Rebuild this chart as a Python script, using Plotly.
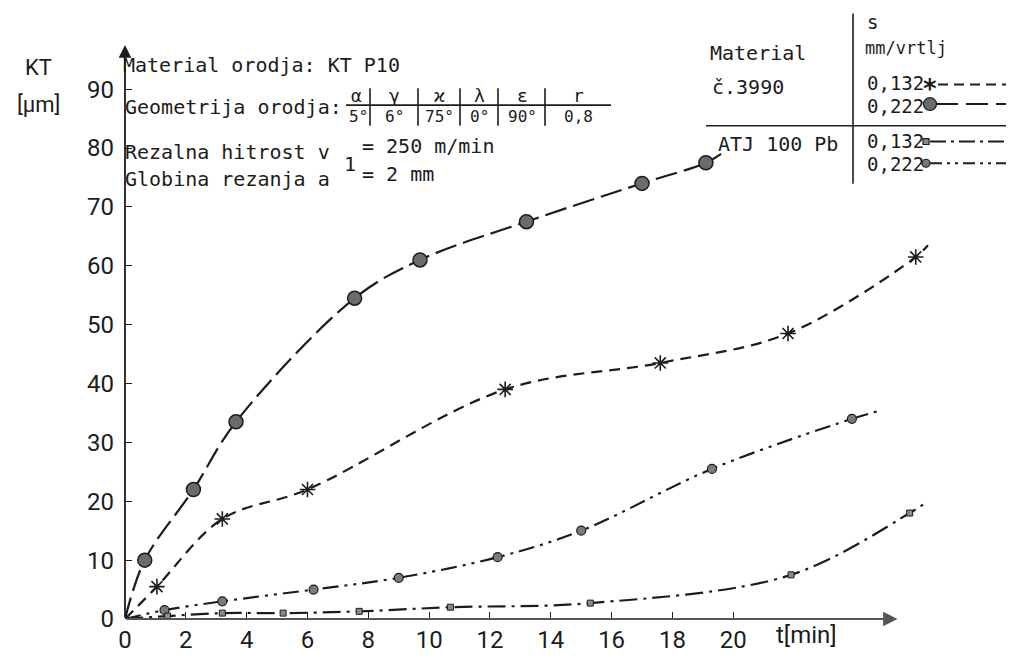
import plotly.graph_objects as go

# Verschleiss KT [um] ueber Zeit t [min], Werte aus dem Diagramm abgelesen
# č.3990, s = 0,222 mm/vrtlj (grosse Kreise)
t_c222 = [0.65, 2.25, 3.65, 7.55, 9.7, 13.2, 17.0, 19.1]
kt_c222 = [10, 22, 33.5, 54.5, 61, 67.5, 74, 77.5]
# č.3990, s = 0,132 mm/vrtlj (Sterne)
t_c132 = [1.05, 3.2, 6.0, 12.5, 17.6, 21.8, 26.0]
kt_c132 = [5.5, 17, 22, 39, 43.5, 48.5, 61.5]
# ATJ 100 Pb, s = 0,222 mm/vrtlj (kleine Kreise)
t_a222 = [1.3, 3.2, 6.2, 9.0, 12.25, 15.0, 19.3, 23.9]
kt_a222 = [1.5, 3, 5, 7, 10.5, 15, 25.5, 34]
# ATJ 100 Pb, s = 0,132 mm/vrtlj (Quadrate)
t_a132 = [1.4, 3.2, 5.2, 7.7, 10.7, 15.3, 21.9, 25.8]
kt_a132 = [0.5, 1, 1, 1.3, 2, 2.7, 7.5, 18]
# wo die Kurven enden
end_t = [19.6, 26.4, 24.9, 26.4]
end_kt = [79, 63.5, 35.5, 20]

x_ticks = [0, 2, 4, 6, 8, 10, 12, 14, 16, 18, 20]
y_ticks = [0, 10, 20, 30, 40, 50, 60, 70, 80, 90]

W, H = 1014, 658
L, R, T, B = 117, 88, 40, 38

def X(px):
    return (px - L) / (W - L - R)

def Y(py):
    return (H - B - py) / (H - T - B)

INK = "#1c1c1c"
MONO = "DejaVu Sans Mono, Liberation Mono, monospace"
NARROW = "Roboto, Liberation Sans, sans-serif"

series = [
    (t_c222, kt_c222, end_t[0], end_kt[0], "22px,7px",
     dict(symbol="circle", size=14, color="#6b6b6b", line=dict(color=INK, width=1.5))),
    (t_c132, kt_c132, end_t[1], end_kt[1], "11px,7px",
     dict(symbol="asterisk-open", size=13, color=INK, line=dict(color=INK, width=1.6))),
    (t_a222, kt_a222, end_t[2], end_kt[2], "16px,6px,3px,6px,3px,6px",
     dict(symbol="circle", size=9, color="#7a7a7a", line=dict(color=INK, width=1.2))),
    (t_a132, kt_a132, end_t[3], end_kt[3], "18px,6px,3px,6px",
     dict(symbol="square", size=6, color="#8a8a8a", line=dict(color=INK, width=1))),
]

fig = go.Figure()
for t, kt, te, ke, dash, mk in series:
    fig.add_trace(go.Scatter(
        x=[0] + t + [te], y=[0] + kt + [ke], mode="lines",
        line=dict(color=INK, width=2.2, dash=dash, shape="spline", smoothing=1.0),
        showlegend=False, hoverinfo="skip"))
    fig.add_trace(go.Scatter(
        x=t, y=kt, mode="markers", marker=mk, cliponaxis=False, showlegend=False))

shapes = []
def seg(x0, y0, x1, y1, width=1.6, dash="solid"):
    shapes.append(dict(type="line", xref="paper", yref="paper",
                       x0=X(x0), y0=Y(y0), x1=X(x1), y1=Y(y1),
                       line=dict(color=INK, width=width, dash=dash)))

def dot(kind, cx, cy, r, fill):
    shapes.append(dict(type=kind, xref="paper", yref="paper",
                       x0=X(cx - r), x1=X(cx + r), y0=Y(cy + r), y1=Y(cy - r),
                       fillcolor=fill, line=dict(color=INK, width=1.2)))

# Tabelle Geometrie
seg(338, 98, 603, 98)
for sx in [362, 410, 452, 490, 537]:
    seg(sx, 81, sx, 119)
# Legendentabelle
seg(845, 5, 845, 178)
seg(698, 119, 1008, 119)
seg(930, 77, 1005, 77, 2, "10px,6px")
seg(928, 97, 1005, 97, 2, "22px,8px")
seg(922, 135, 1005, 135, 2, "16px,5px,3px,5px")
seg(922, 157, 1005, 157, 2, "12px,5px,3px,5px,3px,5px")
# Legenden-Symbole
dot("circle", 922, 97, 6.5, "#6b6b6b")
dot("rect", 918, 135, 3, "#8a8a8a")
dot("circle", 918, 157, 4, "#7a7a7a")

ann = []
def txt(s, px, py, size=20, font=MONO, anchor="left"):
    ann.append(dict(text=s, x=X(px), y=Y(py), xref="paper", yref="paper",
                    xanchor=anchor, yanchor="middle", showarrow=False,
                    font=dict(family=font, size=size, color=INK)))

txt("Material orodja: KT P10", 113, 57)
txt("Geometrija orodja:", 115, 100)
for s, cx in zip(["α", "γ", "ϰ", "λ", "ε", "r"], [348, 386, 431, 471, 514, 570]):
    txt(s, cx, 88, 18, anchor="center")
for s, cx in zip(["5°", "6°", "75°", "0°", "90°", "0,8"], [350, 386, 431, 471, 514, 570]):
    txt(s, cx, 110, 16, anchor="center")
txt("Rezalna hitrost v", 115, 146)
txt("= 250 m/min", 352, 140)
txt("1", 334, 158)
txt("Globina rezanja a", 115, 173)
txt("= 2 mm", 352, 168)

txt("Material", 700, 45)
txt("s", 857, 14, 19)
txt("mm/vrtlj", 855, 40, 17)
txt("č.3990", 702, 80)
txt("0,132", 857, 76, 19)
txt("0,222", 857, 99, 19)
txt("ATJ 100 Pb", 708, 138)
txt("0,132", 857, 134, 19)
txt("0,222", 857, 158, 19)
txt("<b>*</b>", 922, 82, 26, "DejaVu Sans", "center")

txt("KT", 30, 60, 22, NARROW, "center")
txt("[μm]", 30, 97, 22, NARROW, "center")
txt("t[min]", 798, 636, 24, NARROW, "center")

# Achsenpfeile
ann.append(dict(x=0, y=97.5, ax=0, ay=0, xref="x", yref="y", axref="x", ayref="y",
                showarrow=True, arrowhead=2, arrowsize=1.4, arrowwidth=1.8,
                arrowcolor=INK, text=""))
ann.append(dict(x=25.4, y=0, ax=0, ay=0, xref="x", yref="y", axref="x", ayref="y",
                showarrow=True, arrowhead=2, arrowsize=1.6, arrowwidth=1.8,
                arrowcolor="#555", text=""))

fig.update_layout(
    width=W, height=H,
    margin=dict(l=L, r=R, t=T, b=B),
    paper_bgcolor="white", plot_bgcolor="white",
    xaxis=dict(range=[0, 26.6], tickvals=x_ticks, ticks="inside", ticklen=7,
               tickwidth=1.4, tickcolor=INK, showgrid=False, zeroline=False,
               showline=False, ticklabelstandoff=4,
               tickfont=dict(family=NARROW, size=24, color=INK)),
    yaxis=dict(range=[0, 97], tickvals=y_ticks, ticks="inside", ticklen=7,
               tickwidth=1.4, tickcolor=INK, showgrid=False, zeroline=False,
               showline=False, ticklabelstandoff=10,
               tickfont=dict(family=NARROW, size=24, color=INK)),
    shapes=shapes, annotations=ann,
)

fig.write_html("out.html")
